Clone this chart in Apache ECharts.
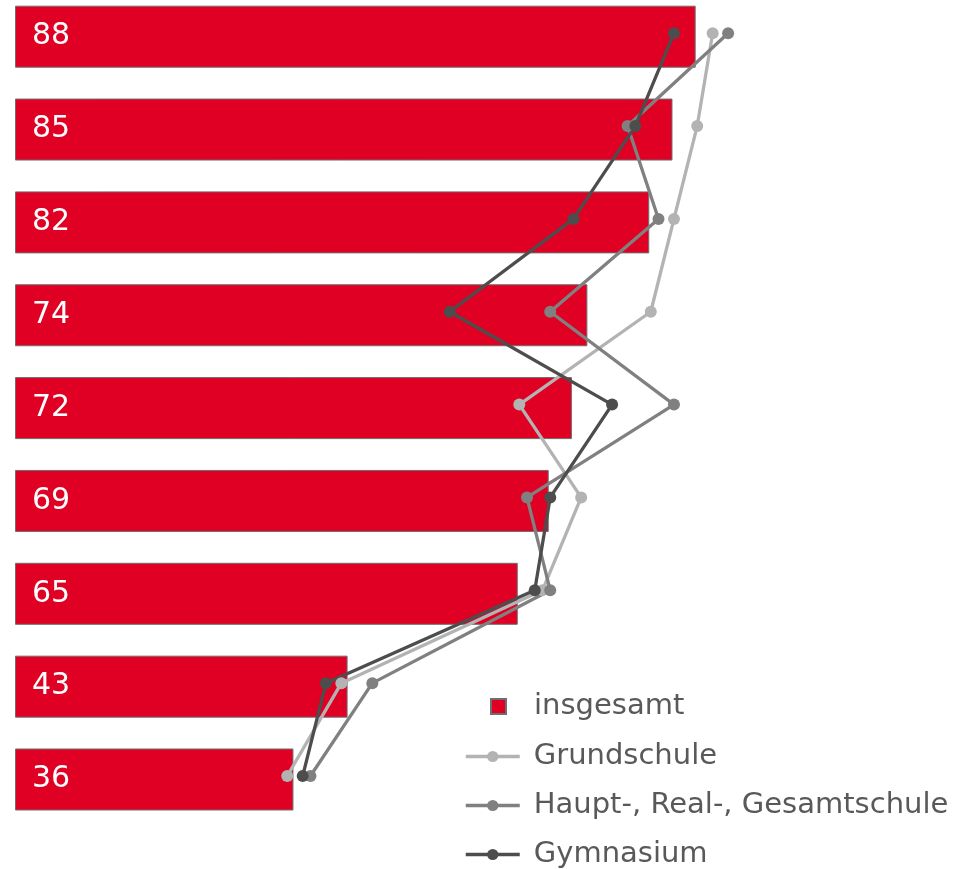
<!DOCTYPE html>
<html>
<head>
<meta charset="utf-8">
<script src="https://cdn.jsdelivr.net/npm/echarts@6/dist/echarts.min.js"></script>
<style>
  html, body { margin: 0; padding: 0; background: #fff; }
  #chart { width: 970px; height: 869px; }
</style>
</head>
<body>
<div id="chart"></div>
<script>
// rows top to bottom
const rows = ['r1', 'r2', 'r3', 'r4', 'r5', 'r6', 'r7', 'r8', 'r9']
const insgesamt = [88, 85, 82, 74, 72, 69, 65, 43, 36]
const grundschule = [90, 88, 85, 82, 65, 73, 68, 42, 35]
const hauptReal = [92, 79, 83, 69, 85, 66, 69, 46, 38]
const gymnasium = [85, 80, 72, 56, 77, 69, 67, 40, 37]

const seriesNames = ['insgesamt', 'Grundschule', 'Haupt-, Real-, Gesamtschule', 'Gymnasium']
const lineColors = ['#b3b3b3', '#808080', '#4d4d4d']

const font = 'DejaVu Sans, Verdana, sans-serif'
const pxPerUnit = 7.735
const xMax = 120

const chart = echarts.init(document.getElementById('chart'))

const lineSeries = (name, data, color) => ({
  name: name,
  type: 'line',
  xAxisIndex: 1,
  yAxisIndex: 1,
  data: data,
  symbol: 'circle',
  symbolSize: 12,
  lineStyle: { color: color, width: 3.3 },
  itemStyle: { color: color },
  clip: false,
  z: 5
})

// one legend per line series so none wraps into a second column
const lineLegend = (name, top) => ({
  data: [name],
  left: 464,
  top: top,
  padding: 0,
  itemWidth: 54,
  itemHeight: 14,
  lineStyle: { width: 3.5 },
  textStyle: { fontFamily: font, fontSize: 29, color: '#595959', lineHeight: 28, padding: [0, 0, 0, 9] }
})

chart.setOption({
  animation: false,
  grid: [
    { left: 15, top: 36.7, width: xMax * pxPerUnit, height: 742.8 },
    { left: 16.5, top: 33.2, width: xMax * pxPerUnit, height: 742.8 }
  ],
  xAxis: [
    { type: 'value', min: 0, max: xMax, gridIndex: 0, show: false },
    { type: 'value', min: 0, max: xMax, gridIndex: 1, show: false }
  ],
  yAxis: [
    { type: 'category', data: rows, inverse: true, boundaryGap: false, gridIndex: 0, show: false },
    { type: 'category', data: rows, inverse: true, boundaryGap: false, gridIndex: 1, show: false }
  ],
  legend: [
    {
      data: [seriesNames[0]],
      left: 490,
      top: 692,
      padding: 0,
      itemWidth: 15,
      itemHeight: 15,
      icon: 'rect',
      textStyle: { fontFamily: font, fontSize: 29, color: '#595959', lineHeight: 28, padding: [0, 0, 0, 23] }
    },
    lineLegend(seriesNames[1], 742),
    lineLegend(seriesNames[2], 791),
    lineLegend(seriesNames[3], 840)
  ],
  series: [
    {
      name: seriesNames[0],
      type: 'bar',
      data: insgesamt,
      barWidth: 62,
      clip: false,
      itemStyle: { color: '#df0024', borderColor: '#6e6e6e', borderWidth: 1 },
      label: {
        show: true,
        position: 'insideLeft',
        distance: 17,
        color: '#fff',
        fontFamily: font,
        fontSize: 30
      },
      z: 2
    },
    lineSeries(seriesNames[1], grundschule, lineColors[0]),
    lineSeries(seriesNames[2], hauptReal, lineColors[1]),
    lineSeries(seriesNames[3], gymnasium, lineColors[2])
  ]
})
</script>
</body>
</html>
